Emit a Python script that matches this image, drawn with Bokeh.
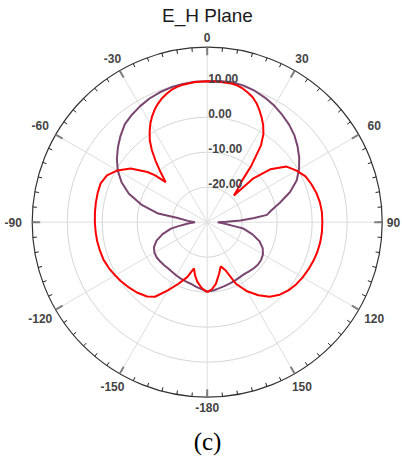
import numpy as np
from bokeh.plotting import figure
from bokeh.models import Range1d
from bokeh.core.properties import value
from bokeh.embed import file_html
from bokeh.resources import INLINE

# ---------------- data ----------------
title_text = "E_H Plane"
caption_text = "(c)"

r_min_db = -30.0
r_max_db = 20.0
ring_values = [-20, -10, 0, 10]
ring_labels = ["-20.00", "-10.00", "0.00", "10.00"]

angle_ticks = [0, 30, 60, 90, 120, 150, 180, -150, -120, -90, -60, -30]
angle_labels = ["0", "30", "60", "90", "120", "150", "-180", "-150", "-120", "-90", "-60", "-30"]

red_angles = [-180, -175, -170.5, -167, -164, -160, -155, -150, -145, -141, -135, -130,
              -124, -120, -115, -110, -105, -100, -95, -90, -85, -80, -75, -70, -65,
              -60, -55, -50, -48, -46, -43, -40, -37.5, -35, -32.5, -30, -27.5, -25, -22.5,
              -20, -17.5, -15, -12.5, -10, -5,
              0, 5, 10, 12.5, 15, 17.5, 20, 22.5, 25, 27.5, 30, 32.5, 35, 38, 40, 42.5, 45,
              46.5, 50, 55, 60, 65,
              70, 75, 80, 85, 90, 95, 100, 105, 110, 115, 120, 125, 130, 135, 140,
              145, 150, 155, 159, 163, 167, 172, 176, 180]
red_db = [-10.0, -11.2, -12.8, -14.5, -16.3, -13.3, -10.6, -7.5, -4.0, -2.7, -1.6, -0.9,
          -0.1, 0.4, 1.0, 1.5, 1.7, 1.9, 2.0, 2.1, 2.2, 2.3, 2.4, 2.4, 1.6,
          -0.4, -3.3, -7.7, -10.0, -13.5, -10.5, -7.0, -4.0, -1.4, 0.6, 2.5, 4.1, 5.5, 6.7,
          7.7, 8.5, 9.2, 9.6, 9.9, 10.2,
          10.3, 10.3, 10.2, 10.0, 9.5, 8.8, 8.0, 6.8, 5.3, 3.7, 2.0, -0.1, -3.2, -9.5, -14.5, -17.0, -19.2,
          -11.8, -6.5, -2.3, -0.5, 1.0, 1.7, 2.3, 2.7, 2.9, 2.9, 2.9, 2.8, 2.6, 2.3, 1.9, 1.5, 1.0,
          0.3, -0.7, -2.2, -4.5, -7.2, -10.6, -15.2, -16.8, -14.9, -12.2, -10.8, -10.0]

purple_angles = [-180, -175, -170, -165, -160, -155, -150, -145, -140, -135, -130, -125,
                 -120, -115, -110, -105, -100, -98, -94, -90, -86, -82, -80, -75, -70,
                 -65, -60, -55, -50, -45, -40, -35, -30, -25, -20, -15, -10, -5,
                 0, 5, 10, 15, 20, 25, 30, 35, 40, 45, 50, 55, 60, 65, 70, 75, 80,
                 83, 85, 87, 89, 90, 94, 98, 100, 105, 110, 115, 120, 125, 130, 135,
                 140, 145, 150, 155, 160, 165, 170, 175, 180]
purple_db = [-10.2, -10.8, -11.3, -11.8, -12.0, -12.2, -12.4, -12.6, -12.7, -12.6, -12.5, -12.4,
             -12.6, -13.2, -14.6, -16.8, -19.5, -21.5, -24.5, -26.5, -24.5, -21.5, -15.8, -10.5, -6.2,
             -3.0, -0.5, 1.5, 3.3, 5.0, 6.6, 7.5, 8.3, 9.0, 9.5, 9.9, 10.1, 10.3,
             10.3, 10.5, 10.6, 10.4, 9.9, 9.2, 8.4, 7.4, 6.4, 5.2, 3.7, 2.1, 0.3, -1.8, -4.8, -8.5, -11.6,
             -12.8, -16.5, -20.5, -24.5, -27.0, -25.5, -22.5, -19.5, -16.6, -14.1, -12.5, -11.6, -11.2, -11.1, -11.3,
             -11.6, -11.8, -11.7, -11.5, -11.3, -11.1, -10.8, -10.4, -10.2]

# ---------------- geometry (pixels) ----------------
R_OUT = 175.0
scale = R_OUT / (r_max_db - r_min_db)


def to_xy(angles_deg, db):
    a = np.radians(np.asarray(angles_deg, dtype=float))
    r = (np.clip(np.asarray(db, dtype=float), r_min_db, r_max_db) - r_min_db) * scale
    return r * np.sin(a), r * np.cos(a)


W, H = 402, 457
cx, cy = 206.7, 221.7  # centre in figure pixel coords (from left / from top)

p = figure(width=W, height=H, x_range=Range1d(-cx, W - cx), y_range=Range1d(-(H - cy), cy),
           toolbar_location=None, output_backend="svg", min_border=0)
p.axis.visible = False
p.grid.visible = False
p.outline_line_color = None
p.background_fill_color = "white"
p.border_fill_color = "white"

# grid rings
for v in ring_values:
    rr = (v - r_min_db) * scale
    p.circle(x=0, y=0, radius=rr, fill_color=None, line_color="#d6d6d6", line_width=1)

# spokes
sp_a = np.radians(np.arange(0, 360, 30))
p.multi_line(xs=[[0, R_OUT * np.sin(a)] for a in sp_a], ys=[[0, R_OUT * np.cos(a)] for a in sp_a],
             line_color="#dedede", line_width=1)

# outer ring
p.circle(x=0, y=0, radius=R_OUT, fill_color=None, line_color="#333333", line_width=1.2)

# minor ticks every 5 deg
mt = np.radians(np.arange(0, 360, 5))
p.multi_line(xs=[[R_OUT * np.sin(a), (R_OUT - 4) * np.sin(a)] for a in mt],
             ys=[[R_OUT * np.cos(a), (R_OUT - 4) * np.cos(a)] for a in mt],
             line_color="#222222", line_width=1)
# major ticks every 30 deg
Mt = np.radians(np.arange(0, 360, 30))
p.multi_line(xs=[[R_OUT * np.sin(a), (R_OUT - 8) * np.sin(a)] for a in Mt],
             ys=[[R_OUT * np.cos(a), (R_OUT - 8) * np.cos(a)] for a in Mt],
             line_color="#808080", line_width=2)

# curves
px_, py_ = to_xy(purple_angles, purple_db)
p.line(px_, py_, line_color="#7a4670", line_width=2)
rx_, ry_ = to_xy(red_angles, red_db)
p.line(rx_, ry_, line_color="#ff0000", line_width=2)

# ring labels
p.text(x=[1.0] * len(ring_values), y=[(v - r_min_db) * scale + 4 for v in ring_values], text=ring_labels,
       text_font=value("Liberation Sans"), text_font_size="12px", text_font_style="bold",
       text_color="#444444", text_align="left", text_baseline="middle")

# angle labels
aa = np.radians(np.asarray(angle_ticks, dtype=float))
lr = 185 + 9 * np.abs(np.sin(aa))
lx = np.clip(lr * np.sin(aa), -cx + 12, (W - cx) - 9)
p.text(x=lx, y=lr * np.cos(aa), text=angle_labels,
       text_font=value("Liberation Sans"), text_font_size="12px", text_font_style="bold",
       text_color="#444444", text_align="center", text_baseline="middle")

# title and caption
p.text(x=[0.3], y=[cy - 14.5], text=[title_text], text_font=value("Liberation Sans"),
       text_font_size="19px", text_color="#1a1a1a", text_align="center", text_baseline="middle")
p.text(x=[0.3], y=[cy - 441.0], text=[caption_text], text_font=value("Liberation Serif"),
       text_font_size="25px", text_color="#000000", text_align="center", text_baseline="middle")

open("out.html", "w").write(file_html(p, INLINE))
